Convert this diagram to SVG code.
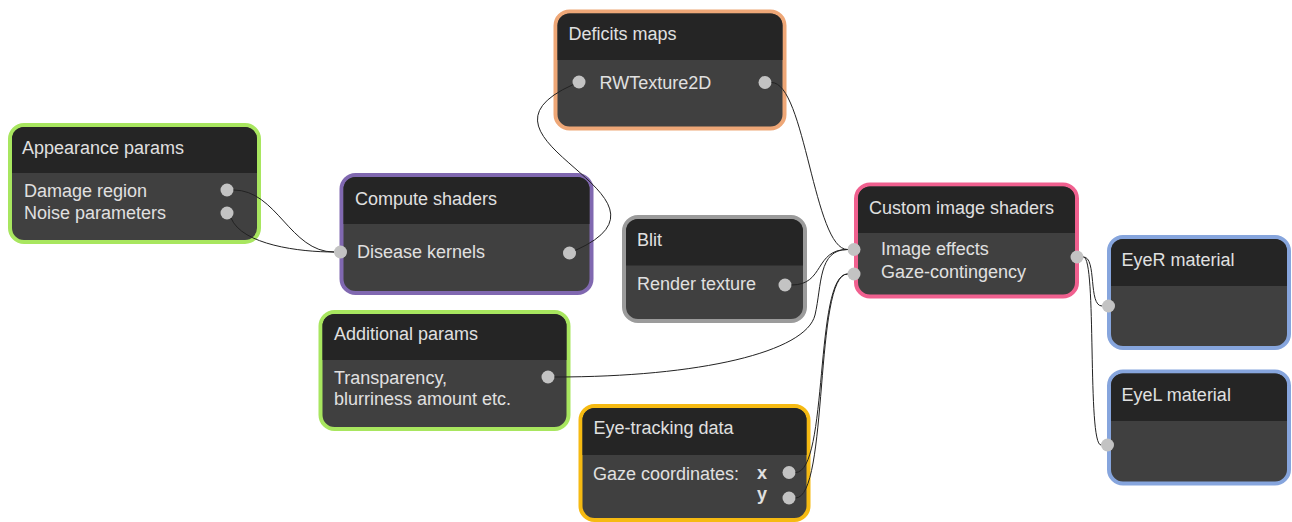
<svg xmlns="http://www.w3.org/2000/svg" width="1292" height="522" viewBox="0 0 1292 522">
  <style>
    .frame { stroke-width: 4; }
    .body { fill: #404040; }
    .head { fill: #252525; }
    .label { font-family: "Liberation Sans", Arial, sans-serif; font-size: 18px; fill: #e0e0e0; }
    .axis { font-family: "Liberation Sans", Arial, sans-serif; font-size: 18px; font-weight: bold; fill: #e0e0e0; }
    .port { fill: #c3c3c3; }
    .wire { fill: none; stroke: #222222; stroke-width: 1; }
    .green { stroke: #a8e65f; }
    .purple { stroke: #8068b0; }
    .peach { stroke: #eea777; }
    .grey { stroke: #9b9b9b; }
    .pink { stroke: #f0608f; }
    .blue { stroke: #86a5dd; }
    .gold { stroke: #f6ba12; }
  </style>
  <rect width="1292" height="522" fill="#ffffff"/>

  <!-- Appearance params -->
  <g id="appearance-params">
    <rect class="frame body green" x="10" y="125" width="249" height="117" rx="14"/>
    <path class="head" d="M12,173 V139 A12,12 0 0 1 24,127 H245 A12,12 0 0 1 257,139 V173 Z"/>
    <text class="label" x="22" y="154">Appearance params</text>
    <text class="label" x="24" y="197">Damage region</text>
    <text class="label" x="24" y="219">Noise parameters</text>
    <circle class="port" cx="227" cy="190" r="6.5"/>
    <circle class="port" cx="227" cy="213" r="6.5"/>
  </g>

  <!-- Compute shaders -->
  <g id="compute-shaders">
    <rect class="frame body purple" x="341.5" y="175" width="250" height="118" rx="14"/>
    <path class="head" d="M343.5,224 V189 A12,12 0 0 1 355.5,177 H577.5 A12,12 0 0 1 589.5,189 V224 Z"/>
    <text class="label" x="355" y="204.5">Compute shaders</text>
    <text class="label" x="357" y="258">Disease kernels</text>
    <circle class="port" cx="340.5" cy="252" r="6.5"/>
    <circle class="port" cx="569.5" cy="253" r="6.5"/>
  </g>

  <!-- Deficits maps -->
  <g id="deficits-maps">
    <rect class="frame body peach" x="555.5" y="11.5" width="229" height="117" rx="14"/>
    <path class="head" d="M557.5,60 V25.5 A12,12 0 0 1 569.5,13.5 H770.5 A12,12 0 0 1 782.5,25.5 V60 Z"/>
    <text class="label" x="568.5" y="40">Deficits maps</text>
    <text class="label" x="599.5" y="89">RWTexture2D</text>
    <circle class="port" cx="579" cy="82" r="6.5"/>
    <circle class="port" cx="765" cy="82.5" r="6.5"/>
  </g>

  <!-- Blit -->
  <g id="blit">
    <rect class="frame body grey" x="624" y="217" width="181" height="104" rx="14"/>
    <path class="head" d="M626,265.5 V231 A12,12 0 0 1 638,219 H791 A12,12 0 0 1 803,231 V265.5 Z"/>
    <text class="label" x="637" y="246">Blit</text>
    <text class="label" x="637" y="290">Render texture</text>
    <circle class="port" cx="785" cy="285" r="6.5"/>
  </g>

  <!-- Custom image shaders -->
  <g id="custom-image-shaders">
    <rect class="frame body pink" x="856" y="184.5" width="221" height="112" rx="14"/>
    <path class="head" d="M858,233 V198.5 A12,12 0 0 1 870,186.5 H1063 A12,12 0 0 1 1075,198.5 V233 Z"/>
    <text class="label" x="869" y="214">Custom image shaders</text>
    <text class="label" x="881" y="255">Image effects</text>
    <text class="label" x="881" y="277.5">Gaze-contingency</text>
    <circle class="port" cx="854" cy="249.5" r="6.5"/>
    <circle class="port" cx="854" cy="274" r="6.5"/>
    <circle class="port" cx="1077" cy="257" r="6.5"/>
  </g>

  <!-- EyeR material -->
  <g id="eyer-material">
    <rect class="frame body blue" x="1109" y="237" width="180" height="111" rx="14"/>
    <path class="head" d="M1111,286 V251 A12,12 0 0 1 1123,239 H1275 A12,12 0 0 1 1287,251 V286 Z"/>
    <text class="label" x="1121.5" y="266">EyeR material</text>
    <circle class="port" cx="1108.5" cy="306" r="6.5"/>
  </g>

  <!-- EyeL material -->
  <g id="eyel-material">
    <rect class="frame body blue" x="1109" y="371.5" width="180" height="112" rx="14"/>
    <path class="head" d="M1111,421 V385.5 A12,12 0 0 1 1123,373.5 H1275 A12,12 0 0 1 1287,385.5 V421 Z"/>
    <text class="label" x="1121.5" y="400.5">EyeL material</text>
    <circle class="port" cx="1107.5" cy="445" r="6.5"/>
  </g>

  <!-- Additional params -->
  <g id="additional-params">
    <rect class="frame body green" x="320.5" y="312" width="248" height="117" rx="14"/>
    <path class="head" d="M322.5,360 V326 A12,12 0 0 1 334.5,314 H554.5 A12,12 0 0 1 566.5,326 V360 Z"/>
    <text class="label" x="334" y="340">Additional params</text>
    <text class="label" x="334" y="383.5">Transparency,</text>
    <text class="label" x="334" y="405">blurriness amount etc.</text>
    <circle class="port" cx="548" cy="377" r="6.5"/>
  </g>

  <!-- Eye-tracking data -->
  <g id="eye-tracking-data">
    <rect class="frame body gold" x="580.5" y="406" width="228" height="114" rx="14"/>
    <path class="head" d="M582.5,455 V420 A12,12 0 0 1 594.5,408 H794.5 A12,12 0 0 1 806.5,420 V455 Z"/>
    <text class="label" x="593.5" y="433.5">Eye-tracking data</text>
    <text class="label" x="593" y="480">Gaze coordinates:</text>
    <text class="axis" x="757" y="479">x</text>
    <text class="axis" x="757" y="500">y</text>
    <circle class="port" cx="789" cy="472.5" r="6.5"/>
    <circle class="port" cx="789" cy="498" r="6.5"/>
  </g>

  <!-- Connectors -->
  <g id="connectors">
    <path class="wire" d="M233.5,190 C277,190 290,252 334,252"/>
    <path class="wire" d="M231,218 C242,245 300,252 334,252"/>
    <path class="wire" d="M575.4,250.4 C699,195 449,140 573.1,84.6"/>
    <path class="wire" d="M771.5,82.5 C805,82.5 814,249.5 847.5,249.5"/>
    <path class="wire" d="M791.5,285 C825,285 814,249.5 847.5,249.5"/>
    <path class="wire" d="M554.5,377 C700,377 806,352 815,315 C822,285 818,249.5 847.5,249.5"/>
    <path class="wire" d="M795.5,472.5 C829,472.5 814,274 847.5,274"/>
    <path class="wire" d="M795.5,498 C829,498 814,274 847.5,274"/>
    <path class="wire" d="M1083.5,257 C1097,257 1088,306 1102,306"/>
    <path class="wire" d="M1083.5,257 C1097,257 1087,445 1101,445"/>
  </g>
</svg>
